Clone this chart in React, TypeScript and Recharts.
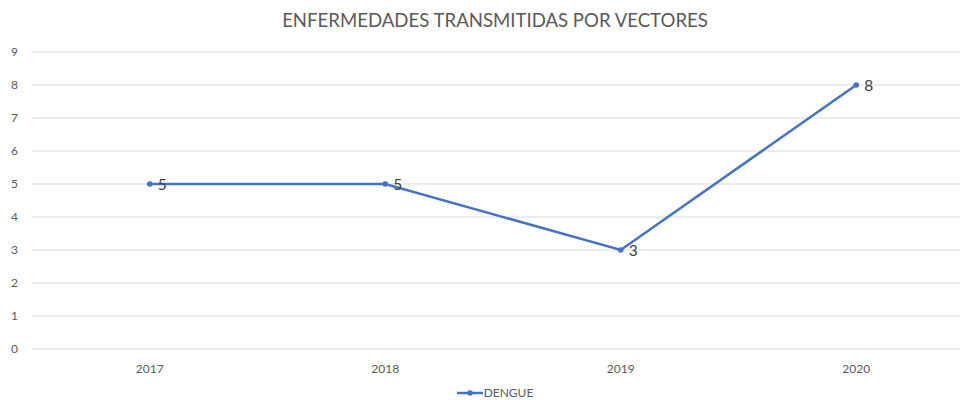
import React from "react";
import { LineChart, Line, XAxis, YAxis, CartesianGrid, Legend, LabelList } from "recharts";

const years = ["2017", "2018", "2019", "2020"];
const dengue = [5, 5, 3, 8];
const yTicks = [0, 1, 2, 3, 4, 5, 6, 7, 8, 9];

const data = years.map((y, i) => ({ year: y, DENGUE: dengue[i] }));

const FONT = "Lato, 'Open Sans', sans-serif";

const LegendContent = () => (
  <div style={{ display: "flex", justifyContent: "center", alignItems: "center", fontFamily: FONT, fontSize: 12, lineHeight: "14px", color: "#595959" }}>
    <svg width={26} height={10} style={{ marginRight: 1 }}>
      <line x1={0} y1={5} x2={26} y2={5} stroke="#4472C4" strokeWidth={2.5} />
      <circle cx={13} cy={5} r={2.8} fill="#4472C4" />
    </svg>
    <span>DENGUE</span>
  </div>
);

export default function App() {
  return (
    <div style={{ position: "absolute", left: 0, top: 0, width: 960, height: 400, overflow: "hidden", background: "#fff" }}>
      <div style={{ position: "absolute", left: 245, top: 9, width: 500, textAlign: "center", fontFamily: FONT, fontSize: 18.6, color: "#595959" }}>
        ENFERMEDADES TRANSMITIDAS POR VECTORES
      </div>
      <LineChart width={990} height={400} data={data} margin={{ top: 52, right: 16, bottom: 7, left: 0 }}>
        <CartesianGrid vertical={false} stroke="#D9D9D9" />
        <XAxis dataKey="year" axisLine={false} tickLine={false} tickMargin={9} height={30} padding={{ left: 117.75, right: 117.75 }} tick={{ fill: "#595959", fontSize: 12, fontFamily: FONT }} />
        <YAxis domain={[0, 9]} ticks={yTicks} width={32} axisLine={false} tickLine={false} tickMargin={8} tick={{ fill: "#595959", fontSize: 12, fontFamily: FONT }} interval={0} />
        <Legend verticalAlign="bottom" content={<LegendContent />} wrapperStyle={{ position: "absolute", left: 0, top: 386, width: 990, height: 14 }} />
        <Line dataKey="DENGUE" stroke="#4472C4" strokeWidth={2.5} isAnimationActive={false} dot={{ r: 2.8, fill: "#4472C4", stroke: "#4472C4", strokeWidth: 0 }}>
          <LabelList dataKey="DENGUE" position="right" offset={8} style={{ fill: "#404040", fontSize: 15.5, fontFamily: FONT }} />
        </Line>
      </LineChart>
    </div>
  );
}
